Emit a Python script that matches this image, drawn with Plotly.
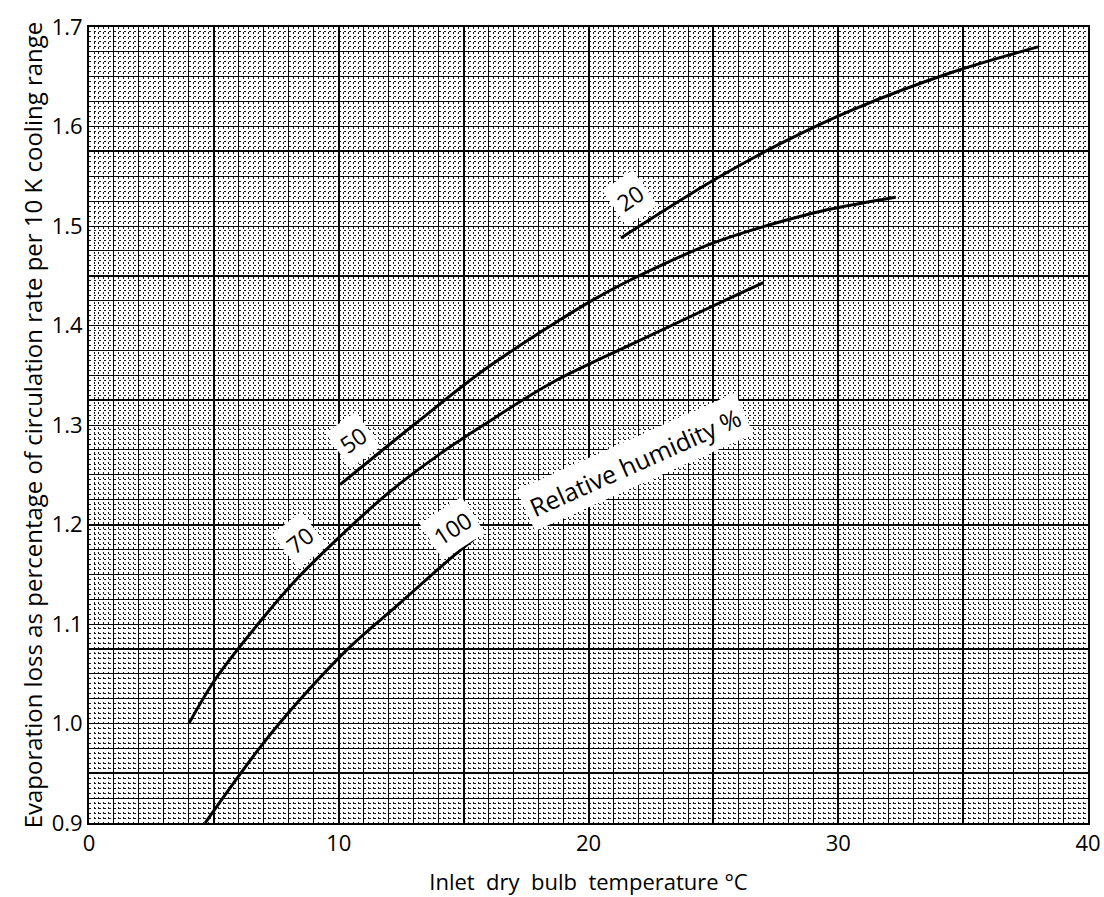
import plotly.graph_objects as go

# Evaporation loss curves, one per relative humidity (%)
rh20_x = [21.3, 25.0, 27.7, 30.5, 34.5, 38.0]
rh20_y = [1.488, 1.546, 1.583, 1.616, 1.654, 1.680]

rh50_x = [10.05, 13.1, 15.8, 18.5, 20.2, 21.7, 25.0, 29.0, 30.5, 32.3]
rh50_y = [1.240, 1.302, 1.355, 1.400, 1.426, 1.446, 1.483, 1.513, 1.521, 1.529]

rh70_x = [4.0, 5.1, 6.9, 8.2, 9.3, 12.0, 14.0, 15.8, 18.5, 21.8, 25.7, 27.0]
rh70_y = [1.000, 1.046, 1.104, 1.142, 1.170, 1.232, 1.270, 1.300, 1.342, 1.382, 1.428, 1.443]

rh100_x = [4.65, 6.85, 8.45, 10.45, 12.45, 14.2, 15.4]
rh100_y = [0.900, 0.976, 1.024, 1.077, 1.121, 1.160, 1.185]

# Tick labels
x_tick_labels = ["0", "10", "20", "30", "40"]
y_tick_labels = ["0.9", "1.0", "1.1", "1.2", "1.3", "1.4", "1.5", "1.6", "1.7"]

FONT = "Open Sans"
INK = "black"

# graph-paper style grid: a ruled line every 1 degC / 0.025, labels every 10 / 0.1
x_grid = list(range(0, 41))
x_text = [x_tick_labels[v // 10] if v % 10 == 0 else "" for v in x_grid]
y_grid = [round(0.9 + 0.025 * k, 3) for k in range(33)]
y_text = [y_tick_labels[k // 4] if k % 4 == 0 else "" for k in range(33)]

fig = go.Figure()

for xs, ys in [(rh20_x, rh20_y), (rh50_x, rh50_y), (rh70_x, rh70_y), (rh100_x, rh100_y)]:
    fig.add_trace(go.Scatter(
        x=xs, y=ys, mode="lines",
        line=dict(color=INK, width=3, shape="spline", smoothing=1.0),
        hoverinfo="skip", showlegend=False,
    ))

# carrier trace for the heavier every-fifth ruling
fig.add_trace(go.Scatter(x=[0], y=[0.9], mode="lines", xaxis="x2", yaxis="y2",
                         line=dict(width=0), hoverinfo="skip", showlegend=False))

# curve labels on white patches
labels = [
    ("20", 21.66, 1.528, -35, 23),
    ("50", 10.57, 1.285, -35, 23),
    ("70", 8.45, 1.184, -38, 23),
    ("100", 14.57, 1.196, -33, 23),
    ("Relative humidity %", 21.86, 1.263, -24, 25),
]
for text, lx, ly, ang, size in labels:
    fig.add_annotation(x=lx, y=ly, text=text, showarrow=False, textangle=ang,
                       font=dict(family=FONT, size=size, color=INK),
                       bgcolor="white", borderpad=5)

fig.update_layout(
    width=1104, height=897,
    margin=dict(l=89, r=16, t=27, b=74),
    paper_bgcolor="white", plot_bgcolor="white",
    font=dict(family=FONT, size=21, color=INK),
    xaxis=dict(
        range=[0, 40], tickmode="array", tickvals=x_grid, ticktext=x_text,
        showgrid=True, gridcolor=INK, gridwidth=1,
        minor=dict(dtick=0.2, tick0=0, showgrid=True, gridcolor="#1a1a1a",
                   gridwidth=1, griddash="2px,3px"),
        showline=True, linecolor=INK, linewidth=2, mirror=True,
        ticks="", zeroline=False, automargin=False,
        tickfont=dict(family=FONT, size=22, color=INK),
        title=dict(text="Inlet  dry  bulb  temperature °C",
                   font=dict(family=FONT, size=22, color=INK), standoff=18),
    ),
    yaxis=dict(
        range=[0.9, 1.7], tickmode="array", tickvals=y_grid, ticktext=y_text,
        showgrid=True, gridcolor=INK, gridwidth=1,
        minor=dict(dtick=0.005, tick0=0.9, showgrid=True, gridcolor="#1a1a1a",
                   gridwidth=1, griddash="2px,3px"),
        showline=True, linecolor=INK, linewidth=2, mirror=True,
        ticks="", zeroline=False, automargin=False,
        tickfont=dict(family=FONT, size=22, color=INK),
        title=dict(text="Evaporation loss as percentage of circulation rate per 10 K cooling range",
                   font=dict(family=FONT, size=24, color=INK), standoff=2),
    ),
    xaxis2=dict(overlaying="x", matches="x", anchor="y2", showticklabels=False,
                showgrid=True, dtick=5, tick0=0, gridcolor=INK, gridwidth=1.5,
                zeroline=False, showline=False, ticks="", automargin=False),
    yaxis2=dict(overlaying="y", matches="y", anchor="x2", showticklabels=False,
                showgrid=True, dtick=0.125, tick0=0.95, gridcolor=INK, gridwidth=1.5,
                zeroline=False, showline=False, ticks="", automargin=False),
)

fig.write_html("out.html")
